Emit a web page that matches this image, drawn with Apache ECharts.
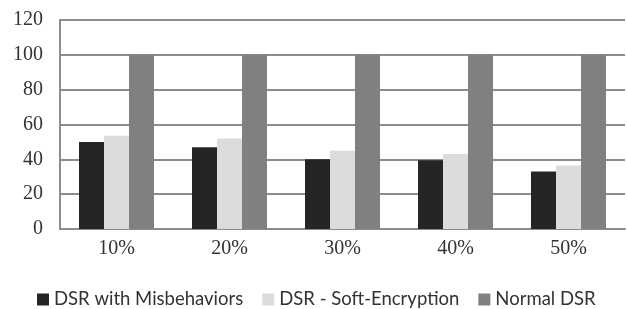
<!DOCTYPE html>
<html>
<head>
<meta charset="utf-8">
<script src="https://cdn.jsdelivr.net/npm/echarts@6/dist/echarts.min.js"></script>
<style>html,body{margin:0;padding:0;background:#fff}#c{width:627px;height:309px}</style>
</head>
<body>
<div id="c"></div>
<script>
const categories = ['10%', '20%', '30%', '40%', '50%'];
const seriesNames = ['DSR with Misbehaviors', 'DSR - Soft-Encryption', 'Normal DSR'];
const misbehaviors = [50, 47, 40, 39.5, 33];
const softEncryption = [53.5, 52, 45, 43, 36.5];
const normalDSR = [100, 100, 100, 100, 100];
const yTicks = [0, 20, 40, 60, 80, 100, 120];

const colors = ['#252525', '#dcdcdc', '#808080'];
const chart = echarts.init(document.getElementById('c'), null, {renderer: 'canvas'});
const dataSets = [misbehaviors, softEncryption, normalDSR];
chart.setOption({
  animation: false,
  color: colors,
  grid: {left: 60, right: 2, top: 20, bottom: 80},
  legend: {
    data: seriesNames,
    left: 37, top: 285,
    icon: 'rect', itemWidth: 12, itemHeight: 12, itemGap: 19, padding: [5, 5, 5, 0],
    textStyle: {fontFamily: 'Lato', fontSize: 18.5, color: '#333'}
  },
  xAxis: {
    type: 'category', data: categories,
    axisLine: {show: true, lineStyle: {color: '#8c8c8c', width: 2}},
    axisTick: {show: false},
    axisLabel: {fontFamily: 'Liberation Serif', fontSize: 20, color: '#333', margin: 10}
  },
  yAxis: {
    type: 'value', min: yTicks[0], max: yTicks[yTicks.length - 1], interval: 20,
    axisLine: {show: true, lineStyle: {color: '#8c8c8c', width: 2}},
    axisTick: {show: false},
    splitLine: {lineStyle: {color: '#8c8c8c', width: 2}},
    axisLabel: {fontFamily: 'Liberation Serif', fontSize: 20, color: '#333', margin: 17}
  },
  series: seriesNames.map((n, i) => ({
    name: n, type: 'bar', data: dataSets[i], barWidth: 25, barGap: '0%',
    itemStyle: {color: colors[i]}
  }))
});
</script>
</body>
</html>
